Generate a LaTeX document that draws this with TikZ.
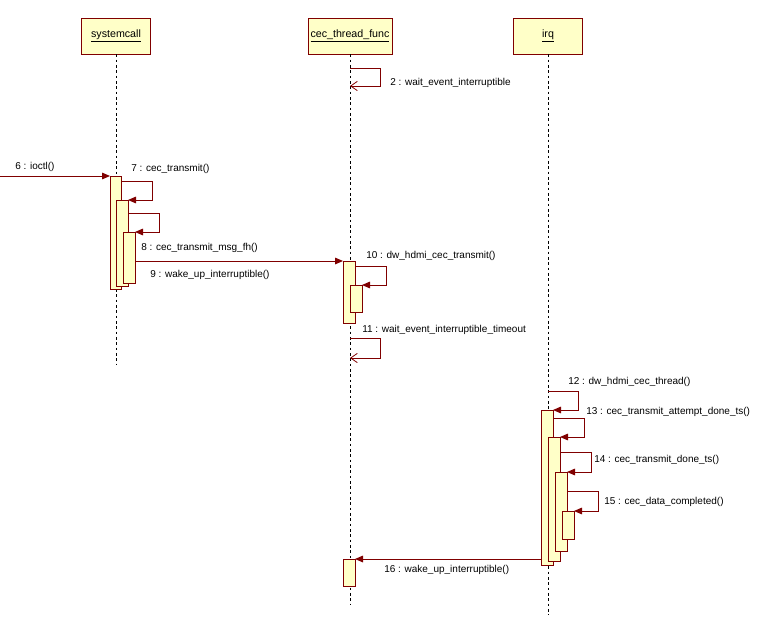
\documentclass[tikz,border=0pt]{standalone}
\usepackage{fontspec}
\setmainfont{Liberation Sans}
\usetikzlibrary{arrows.meta}
\definecolor{lred}{RGB}{128,0,0}
\definecolor{lyel}{RGB}{255,255,200}
\tikzset{
hdr/.style={draw=lred,fill=lyel,minimum width=69*0.75pt,minimum height=36*0.75pt,inner sep=0pt,font=\fontsize{8}{9}\selectfont},
act/.style={draw=lred,fill=lyel,line width=0.6pt},
msg/.style={draw=lred,line width=0.7pt,-{Triangle[length=6pt,width=5pt]}},
ret/.style={draw=lred,line width=0.6pt,-{Straight Barb[length=5pt,width=7pt]}},
life/.style={dash pattern=on 2pt off 2pt,line width=0.5pt},
lbl/.style={anchor=west,inner sep=0pt,font=\fontsize{7.5}{9}\selectfont}
}
\begin{document}
\begin{tikzpicture}[x=0.75pt,y=-0.75pt]
\useasboundingbox (0,0) rectangle (784,635);
% lifelines
\node[hdr] (sys) at (116,36) {\underline{systemcall}};
\node[hdr,minimum width=84*0.75pt] (thr) at (350,36) {\underline{cec\_thread\_func}};
\node[hdr] (irq) at (548,36) {\underline{irq}};
\draw[life] (sys.south) -- (116,365);
\draw[life] (thr.south) -- (350,605);
\draw[life] (irq.south) -- (548,615);
% activations
\draw[act] (110,176) rectangle (121,289);
\draw[act] (116,200) rectangle (128,286);
\draw[act] (123,232) rectangle (135,283);
\draw[act] (343,261) rectangle (355,323);
\draw[act] (350,285) rectangle (362,312);
\draw[act] (343,559) rectangle (355,586);
\draw[act] (541,410) rectangle (553,565);
\draw[act] (548,437) rectangle (560,561);
\draw[act] (555,472) rectangle (567,551);
\draw[act] (562,511) rectangle (574,539);
% messages
\coordinate (in) at (0,176);
\draw[msg] (in) -- (110,176);
\node[lbl] at (15,167) {6 : ioctl()};
\draw[msg] (121,181) -| (152,200) -- (128,200);
\node[lbl] at (131,169) {7 : cec\_transmit()};
\draw[msg] (128,213) -| (159,232) -- (135,232);
\draw[msg] (135,261) -- (343,261);
\node[lbl] at (141,248) {8 : cec\_transmit\_msg\_fh()};
\node[lbl] at (150,275) {9 : wake\_up\_interruptible()};
\draw[ret] (350,68) -| (380,86) -- (350,86);
\node[lbl] at (390,83) {2 : wait\_event\_interruptible};
\draw[msg] (355,266) -| (386,285) -- (362,285);
\node[lbl] at (366,256) {10 : dw\_hdmi\_cec\_transmit()};
\draw[ret] (350,338) -| (380,358) -- (350,358);
\node[lbl] at (362,330) {11 : wait\_event\_interruptible\_timeout};
\draw[msg] (548,391) -| (578,410) -- (553,410);
\node[lbl] at (568,382) {12 : dw\_hdmi\_cec\_thread()};
\draw[msg] (553,418) -| (584,437) -- (560,437);
\node[lbl] at (586,412) {13 : cec\_transmit\_attempt\_done\_ts()};
\draw[msg] (560,452) -| (591,472) -- (567,472);
\node[lbl] at (594,460) {14 : cec\_transmit\_done\_ts()};
\draw[msg] (567,491) -| (598,511) -- (574,511);
\node[lbl] at (604,502) {15 : cec\_data\_completed()};
\draw[msg] (541,559) -- (355,559);
\node[lbl] at (384,570) {16 : wake\_up\_interruptible()};
\end{tikzpicture}
\end{document}
